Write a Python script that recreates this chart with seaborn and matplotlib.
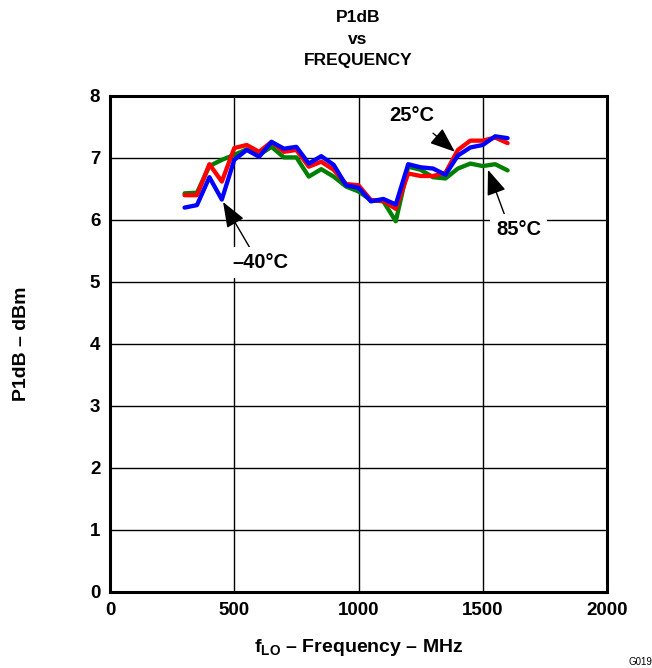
import numpy as np
import pandas as pd
import matplotlib
matplotlib.use("Agg")
import matplotlib.pyplot as plt
import seaborn as sns

# LO frequency sweep (MHz)
freq_mhz = list(range(300, 1601, 50))

# P1dB (dBm) at each temperature
p1db_25c = [6.40, 6.40, 6.90, 6.62, 7.16, 7.21, 7.10, 7.26, 7.10, 7.13, 6.86, 6.94, 6.81, 6.58,
            6.56, 6.32, 6.31, 6.18, 6.75, 6.71, 6.71, 6.76, 7.13, 7.28, 7.28, 7.33, 7.24]
p1db_m40c = [6.20, 6.24, 6.69, 6.33, 6.97, 7.13, 7.02, 7.26, 7.15, 7.18, 6.91, 7.03, 6.89, 6.56,
             6.52, 6.30, 6.34, 6.25, 6.90, 6.85, 6.83, 6.73, 7.04, 7.17, 7.21, 7.35, 7.32]
p1db_85c = [6.43, 6.44, 6.87, 6.97, 7.05, 7.14, 7.05, 7.18, 7.01, 7.01, 6.70, 6.82, 6.70, 6.54,
            6.46, 6.32, 6.30, 5.98, 6.86, 6.81, 6.69, 6.67, 6.83, 6.91, 6.87, 6.90, 6.80]

series_names = ["85°C", "25°C", "−40°C"]
series_colors = ["#008000", "#ff0000", "#0000ff"]

x_ticks = [0, 500, 1000, 1500, 2000]
y_ticks = [0, 1, 2, 3, 4, 5, 6, 7, 8]

df = pd.concat([
    pd.DataFrame({"freq": freq_mhz, "p1db": vals, "temp": name})
    for name, vals in zip(series_names, [p1db_85c, p1db_25c, p1db_m40c])
])

sns.set_theme(style="white")
plt.rcParams["font.family"] = ["Liberation Sans", "DejaVu Sans"]
plt.rcParams["font.weight"] = "bold"
plt.rcParams["mathtext.fontset"] = "custom"
plt.rcParams["mathtext.bf"] = "Liberation Sans:bold"
for key in ("text.color", "axes.labelcolor", "xtick.color", "ytick.color"):
    plt.rcParams[key] = "black"

fig = plt.figure(figsize=(6.52, 6.68), dpi=100)
ax = fig.add_axes([110 / 652, 1 - 592 / 668, 497 / 652, 496 / 668])

sns.lineplot(data=df, x="freq", y="p1db", hue="temp", hue_order=series_names,
             palette=dict(zip(series_names, series_colors)), linewidth=3.1,
             legend=False, ax=ax, zorder=3)

ax.set_xlim(0, 2000)
ax.set_ylim(0, 8)
ax.set_xticks(x_ticks)
ax.set_yticks(y_ticks)
ax.set_xticklabels([str(v) for v in x_ticks], fontsize=13.5, fontweight="bold")
ax.set_yticklabels([str(v) for v in y_ticks], fontsize=13.5, fontweight="bold")
ax.tick_params(axis="both", length=0, pad=7)
ax.grid(True, color="black", linewidth=1.0)
ax.set_axisbelow(True)
for sp in ax.spines.values():
    sp.set_color("black")
    sp.set_linewidth(2.2)
    sp.set_zorder(6)

ax.set_xlabel(r"f$_{\mathbf{LO}}$ – Frequency – MHz", fontsize=14, fontweight="bold", labelpad=13)
ax.set_ylabel("P1dB – dBm", fontsize=14, fontweight="bold", labelpad=43)

fig.text(358 / 652, 1 - 10 / 668, "P1dB\nvs\nFREQUENCY", ha="center", va="top",
         fontsize=12.5, fontweight="bold", linespacing=1.55)
fig.text(640 / 652, 1 - 662 / 668, "G019", ha="center", va="center", fontsize=7,
         fontweight="normal")

arrow_kw = dict(arrowstyle="-|>,head_length=1.3,head_width=0.5", color="black", lw=1.0,
                shrinkA=0, shrinkB=0)
box_kw = dict(boxstyle="square,pad=0.3", facecolor="white", edgecolor="none")

# temperature callouts
ax.annotate("", xy=(1388, 7.10), xytext=(1300, 7.40), arrowprops=arrow_kw, zorder=5)
ax.text(1215, 7.69, "25°C", ha="center", va="center", fontsize=14.5, fontweight="bold",
        bbox=box_kw, zorder=5)

ax.annotate("", xy=(1521, 6.81), xytext=(1590, 6.06), arrowprops=arrow_kw, zorder=5)
ax.text(1645, 5.84, "85°C", ha="center", va="center", fontsize=14.5, fontweight="bold",
        bbox=box_kw, zorder=5)

ax.annotate("", xy=(455, 6.29), xytext=(563, 5.55), arrowprops=arrow_kw, zorder=5)
ax.text(605, 5.31, "–40°C", ha="center", va="center", fontsize=14.5, fontweight="bold",
        bbox=box_kw, zorder=5)

fig.savefig("out.png", dpi=100)
